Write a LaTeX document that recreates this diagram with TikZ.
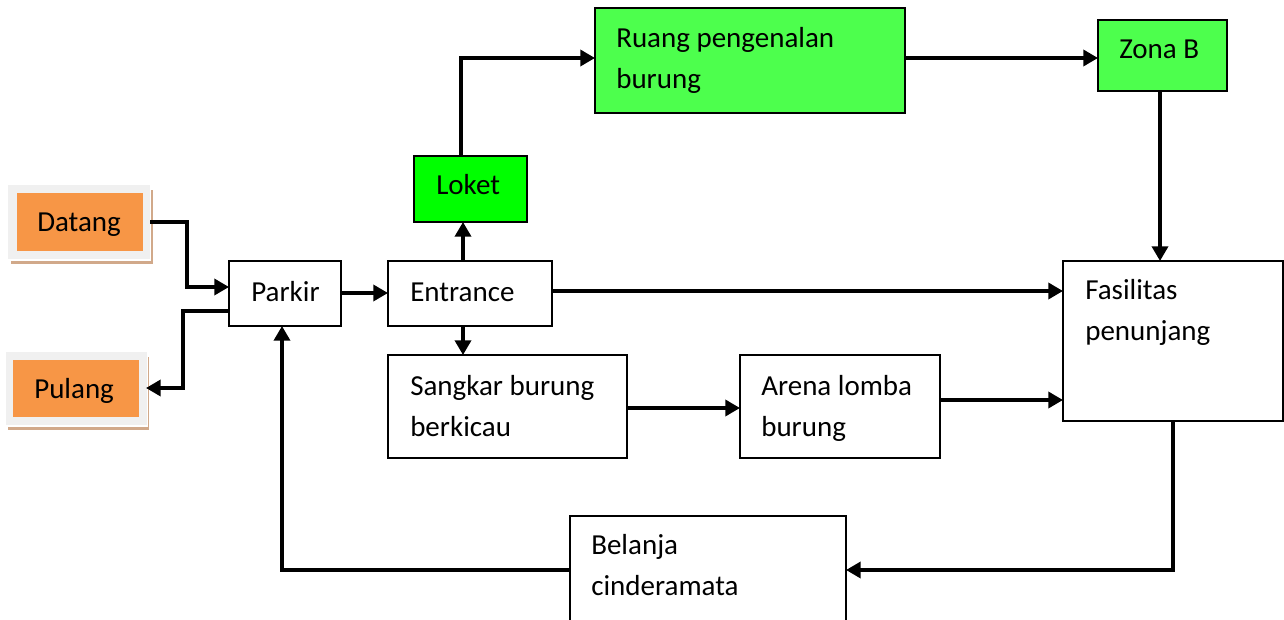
\documentclass[tikz,border=0pt]{standalone}
\usepackage{fontspec}
\setmainfont{Carlito}
\usetikzlibrary{arrows.meta}
\definecolor{startorange}{HTML}{F79646}
\definecolor{framegray}{HTML}{F0F0F0}
\definecolor{shadowtan}{HTML}{D1A98A}
\definecolor{ticketgreen}{HTML}{00FF00}
\definecolor{zonegreen}{HTML}{4DFF4D}
\tikzset{
  wh/.style 2 args={minimum width=#1*0.75pt, minimum height=#2*0.75pt},
  box/.style={draw=black, line width=1.5pt, fill=white, inner sep=0pt, outer sep=0pt, anchor=north west},
  endbox/.style={fill=startorange, inner sep=0pt, outer sep=5.25pt, anchor=north west},
  txt/.style={anchor=base west, inner sep=0pt, align=left,
    font=\fontsize{21.75}{30.75}\selectfont},
  arr/.style={line width=2.6pt, -{Triangle[length=11pt, width=12pt]}}
}
\begin{document}
\begin{tikzpicture}[x=0.75pt, y=-0.75pt]
\useasboundingbox (0,0) rectangle (1284,620);

% start and end boxes with their frame and shadow
\fill[shadowtan] (11,190) rectangle (153,264);
\fill[white] (9,187) rectangle (151,261);
\fill[framegray] (8,185) rectangle (150,259);
\node[endbox, wh={126}{58}] (datang) at (10,186) {};
\fill[shadowtan] (8,357) rectangle (149,430);
\fill[white] (7,354) rectangle (148,427);
\fill[framegray] (6,352) rectangle (147,425);
\node[endbox, wh={126}{57}] (pulang) at (6,353) {};

% boxes
\node[box, wh={112}{65}] (parkir) at (229,261) {};
\node[box, wh={164}{65}] (entrance) at (388,261) {};
\node[box, fill=ticketgreen, wh={113}{66}] (loket) at (414,156) {};
\node[box, fill=zonegreen, wh={310}{105}] (ruang) at (595,8) {};
\node[box, fill=zonegreen, wh={129}{71}] (zonab) at (1098,20) {};
\node[box, wh={220}{160}] (fasil) at (1063,261) {};
\node[box, wh={239}{103}] (sangkar) at (388,355) {};
\node[box, wh={200}{103}] (arena) at (740,355) {};
\node[box, wh={276}{112}] (belanja) at (570,516) {};

% labels (multi-line labels are placed by their last baseline)
\node[txt] (tdatang) at (37,232) {Datang};
\node[txt] (tpulang) at (34,398) {Pulang};
\node[txt] (tparkir) at (251,301) {Parkir};
\node[txt] (tentrance) at (410,301) {Entrance};
\node[txt] (tloket) at (436,195) {Loket};
\node[txt] (truang) at (616,89) {Ruang pengenalan\\burung};
\node[txt] (tzonab) at (1119,59) {Zona B};
\node[txt] (tfasil) at (1085,340) {Fasilitas\\penunjang};
\node[txt] (tsangkar) at (410,436) {Sangkar burung\\berkicau};
\node[txt] (tarena) at (761,436) {Arena lomba\\burung};
\node[txt] (tbelanja) at (591,595) {Belanja\\cinderamata};

% connectors
\draw[arr] (datang.east) -- (187,222) -- (187,287) -- (parkir.west |- 0,287);
\draw[arr] (parkir.west |- 0,311) -- (183,311) -- (183,388) -- (pulang.east |- 0,388);
\draw[arr] (parkir.east |- 0,293) -- (entrance.west |- 0,293);
\draw[arr] (entrance.north -| 463,0) -- (loket.south -| 463,0);
\draw[arr] (loket.north -| 461,0) -- (461,58) -- (ruang.west |- 0,58);
\draw[arr] (ruang.east |- 0,58) -- (zonab.west |- 0,58);
\draw[arr] (zonab.south -| 1160,0) -- (fasil.north -| 1160,0);
\draw[arr] (entrance.east |- 0,291) -- (fasil.west |- 0,291);
\draw[arr] (entrance.south -| 463,0) -- (sangkar.north -| 463,0);
\draw[arr] (sangkar.east |- 0,408) -- (arena.west |- 0,408);
\draw[arr] (arena.east |- 0,400) -- (fasil.west |- 0,400);
\draw[arr] (fasil.south -| 1173,0) -- (1173,570) -- (belanja.east |- 0,570);
\draw[arr] (belanja.west |- 0,570) -- (282,570) -- (parkir.south -| 282,0);
\end{tikzpicture}
\end{document}
